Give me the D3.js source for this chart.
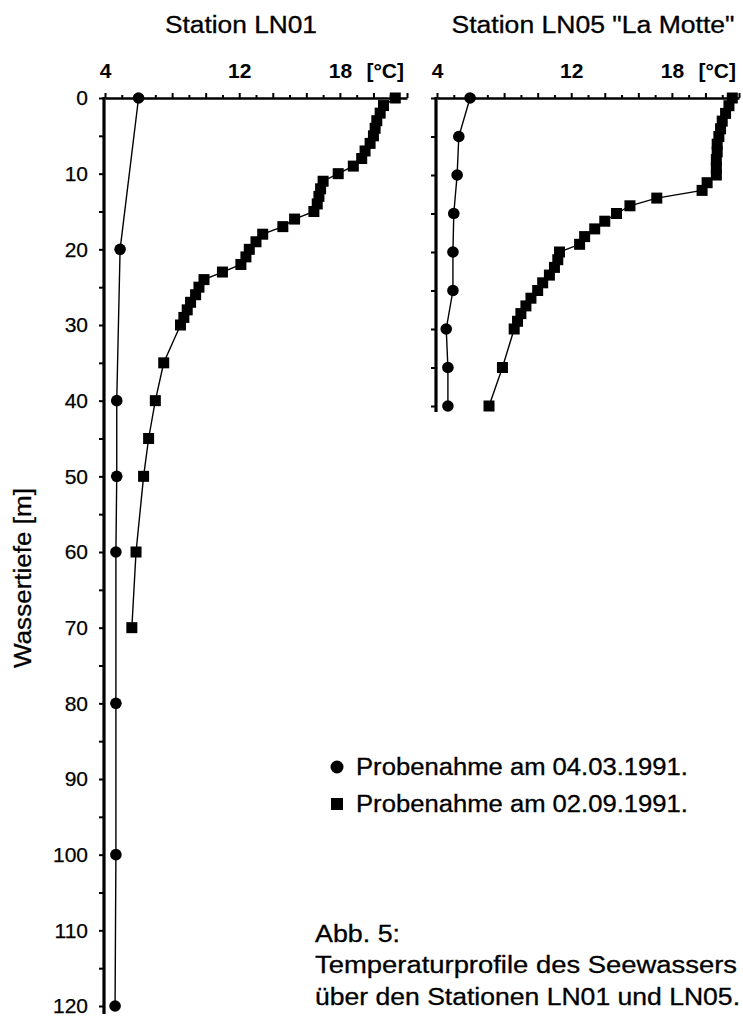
<!DOCTYPE html>
<html><head><meta charset="utf-8">
<script src="https://cdn.jsdelivr.net/npm/d3@7"></script>
<style>
html,body{margin:0;padding:0;background:#fff;}
svg{display:block;font-family:"Liberation Sans",Arial,Helvetica,sans-serif;}
</style></head>
<body>
<svg id="chart" width="743" height="1018"></svg>
<script>
// ---- data ----
const panelTitles = ["Station LN01", "Station LN05 \"La Motte\""];
const tempTicks = [4, 6, 8, 10, 12, 14, 16, 18, 20, 22];
const tempTickLabels = ["4", "12", "18"];
const depthTicks = [0, 10, 20, 30, 40, 50, 60, 70, 80, 90, 100, 110, 120];
const legendLabels = ["Probenahme am 04.03.1991.", "Probenahme am 02.09.1991."];
const captionLines = ["Abb. 5:", "Temperaturprofile des Seewassers", "über den Stationen LN01 und LN05."];

const ln01MarDepth = [0, 20, 40, 50, 60, 80, 100, 120];
const ln01MarTemp  = [6.0, 4.9, 4.7, 4.7, 4.65, 4.65, 4.65, 4.6];
const ln01SepDepth = [0,1,2,3,4,5,6,7,8,9,10,11,12,13,14,15,16,17,18,19,20,21,22,23,24,25,26,27,28,29,30,35,40,45,50,60,70];
const ln01SepTemp  = [21.3,20.6,20.4,20.2,20.1,20.0,19.8,19.5,19.3,18.8,17.9,17.0,16.85,16.75,16.65,16.45,15.3,14.6,13.4,13.0,12.6,12.4,12.1,11.0,9.9,9.6,9.4,9.1,8.9,8.7,8.5,7.5,7.0,6.6,6.3,5.85,5.6];

const ln05MarDepth = [0, 5, 10, 15, 20, 25, 30, 35, 40];
const ln05MarTemp  = [5.97, 5.3, 5.2, 5.0, 4.95, 4.95, 4.55, 4.65, 4.65];
const ln05SepDepth = [0,1,2,3,4,5,6,7,8,9,10,11,12,13,14,15,16,17,18,19,20,21,22,23,24,25,26,27,28,29,30,35,40];
const ln05SepTemp  = [21.6,21.4,21.2,21.0,20.9,20.8,20.7,20.7,20.65,20.65,20.65,20.1,19.8,17.1,15.5,14.7,14.0,13.4,12.8,12.5,11.3,11.2,11.0,10.7,10.3,10.0,9.6,9.3,9.0,8.8,8.6,7.9,7.1];

// ---- drawing ----
const svg = d3.select("#chart");
svg.append("rect").attr("width", 743).attr("height", 1018).attr("fill", "#fff");

const zip = (ds, ts) => ds.map((d, i) => ({d, t: ts[i]}));

const panels = [
  {title: panelTitles[0], titleX: 241, titleLen: 152, xr: [105, 407], yd: [0, 120], yr: [98, 1006], labels: true, axisEnd: 1014,
   mar: zip(ln01MarDepth, ln01MarTemp), sep: zip(ln01SepDepth, ln01SepTemp)},
  {title: panelTitles[1], titleX: 593, titleLen: 283, xr: [437, 739], yd: [0, 40], yr: [98, 406], labels: false, axisEnd: 412,
   mar: zip(ln05MarDepth, ln05MarTemp), sep: zip(ln05SepDepth, ln05SepTemp)}
];

panels.forEach(p => {
  const x = d3.scaleLinear().domain([4, 22]).range(p.xr);
  const y = d3.scaleLinear().domain(p.yd).range(p.yr);
  const g = svg.append("g");

  // title
  g.append("text").attr("x", p.titleX).attr("y", 33).attr("text-anchor", "middle")
    .attr("font-size", 23).attr("textLength", p.titleLen).attr("lengthAdjust", "spacingAndGlyphs")
    .attr("stroke", "#000").attr("stroke-width", 0.3)
    .text(p.title);

  // top axis: minor ticks (odd degrees)
  const minor = d3.range(5, 22, 2);
  g.append("g").attr("transform", `translate(0,${p.yr[0]})`)
    .call(d3.axisTop(x).tickValues(minor).tickSize(3).tickFormat(""))
    .call(a => a.select(".domain").remove())
    .call(a => a.selectAll("line").attr("stroke-width", 2));
  // top axis: major ticks with labels
  g.append("g").attr("transform", `translate(0,${p.yr[0]})`)
    .call(d3.axisTop(x).tickValues(tempTicks).tickSize(5).tickSizeOuter(0).tickPadding(15)
      .tickFormat(v => tempTickLabels.includes(String(v)) ? String(v) : ""))
    .call(a => a.select(".domain").attr("stroke-width", 2.6))
    .call(a => a.selectAll("line").attr("stroke-width", 2))
    .call(a => a.selectAll("text").attr("font-size", 21).attr("font-weight", "bold")
      .attr("font-family", "'Liberation Sans',Arial,sans-serif").attr("fill", "#000"));
  g.append("text").attr("x", x(20.7)).attr("y", 78).attr("text-anchor", "middle")
    .attr("font-size", 21).attr("font-weight", "bold").text("[°C]");

  // left axis
  const yTicks = d3.range(p.yd[0], p.yd[1] + 1, 5);
  g.append("g").attr("transform", `translate(${p.xr[0] - 1},0)`)
    .call(d3.axisLeft(y).tickValues(yTicks).tickSize(5).tickSizeOuter(0).tickPadding(11)
      .tickFormat(v => (p.labels && depthTicks.includes(v)) ? String(v) : ""))
    .call(a => a.select(".domain").remove())
    .call(a => a.selectAll("line").attr("stroke-width", 2))
    .call(a => a.selectAll("text").attr("font-size", 21)
      .attr("font-family", "'Liberation Sans',Arial,sans-serif").attr("fill", "#000")
      .attr("stroke", "#000").attr("stroke-width", 0.25));
  g.append("line").attr("x1", p.xr[0] - 1).attr("x2", p.xr[0] - 1)
    .attr("y1", p.yr[0] - 1).attr("y2", p.axisEnd).attr("stroke", "#000").attr("stroke-width", 3.2);

  const line = d3.line().x(v => x(v.t)).y(v => y(v.d));
  g.append("path").datum(p.mar).attr("d", line).attr("fill", "none").attr("stroke", "#000").attr("stroke-width", 1.4);
  g.append("path").datum(p.sep).attr("d", line).attr("fill", "none").attr("stroke", "#000").attr("stroke-width", 1.4);

  g.selectAll("circle.m").data(p.mar).join("circle").attr("class", "m")
    .attr("cx", v => x(v.t)).attr("cy", v => y(v.d)).attr("r", 5.8).attr("fill", "#000");
  const s = 11;
  g.selectAll("rect.s").data(p.sep).join("rect").attr("class", "s")
    .attr("x", v => x(v.t) - s / 2).attr("y", v => y(v.d) - s / 2)
    .attr("width", s).attr("height", s).attr("fill", "#000");
});

// y-axis title
svg.append("text").attr("transform", "translate(31,578) rotate(-90)").attr("text-anchor", "middle")
  .attr("font-size", 23).attr("textLength", 180).attr("lengthAdjust", "spacingAndGlyphs")
  .attr("stroke", "#000").attr("stroke-width", 0.3)
  .text("Wassertiefe [m]");

// legend
const lg = svg.append("g");
lg.append("circle").attr("cx", 337).attr("cy", 767).attr("r", 6.5).attr("fill", "#000");
lg.append("rect").attr("x", 331).attr("y", 798).attr("width", 12).attr("height", 12).attr("fill", "#000");
legendLabels.forEach((t, i) => {
  lg.append("text").attr("x", 356).attr("y", 775 + i * 37).attr("font-size", 23)
    .attr("stroke", "#000").attr("stroke-width", 0.3)
    .attr("textLength", 332).attr("lengthAdjust", "spacingAndGlyphs").text(t);
});

// caption
const capLens = [85, 422, 425];
const capY = [942, 973, 1005];
captionLines.forEach((t, i) => {
  svg.append("text").attr("x", 315).attr("y", capY[i]).attr("font-size", 23)
    .attr("stroke", "#000").attr("stroke-width", 0.3)
    .attr("textLength", capLens[i]).attr("lengthAdjust", "spacingAndGlyphs").text(t);
});
</script>
</body></html>
